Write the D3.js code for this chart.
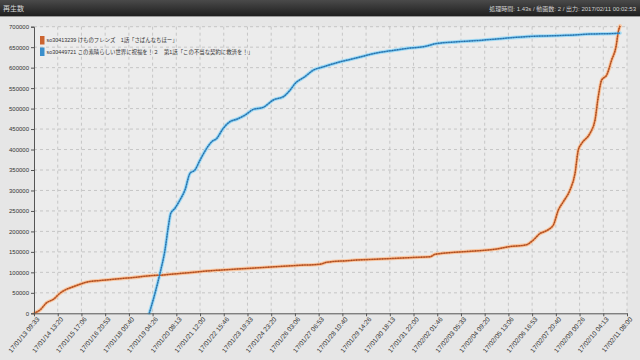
<!DOCTYPE html>
<html>
<head>
<meta charset="utf-8">
<script src="https://cdn.jsdelivr.net/npm/d3@7"></script>
<style>
html, body { margin: 0; padding: 0; background: #e6e6e6; overflow: hidden; }
svg { display: block; font-family: "Liberation Sans", "Noto Sans CJK JP", sans-serif; }
</style>
</head>
<body>
<div id="chart"></div>
<script>
// Textos
const titleText = "再生数";
const infoText = "処理時間: 1.43s / 動画数: 2 / 出力: 2017/02/11 00:02:53";
const seriesNames = [
    "so30413239 けものフレンズ　1話「さばんなちほー」",
    "so30449721 この素晴らしい世界に祝福を！２　第1話「この不当な契約に救済を！」"
];

// Eixos
const xTickLabels = [
    "17/01/13 09:33", "17/01/14 13:20", "17/01/15 17:06", "17/01/16 20:53", "17/01/18 00:40",
    "17/01/19 04:26", "17/01/20 08:13", "17/01/21 12:00", "17/01/22 15:46", "17/01/23 19:33",
    "17/01/24 23:20", "17/01/26 03:06", "17/01/27 06:53", "17/01/28 10:40", "17/01/29 14:26",
    "17/01/30 18:13", "17/01/31 22:00", "17/02/02 01:46", "17/02/03 05:33", "17/02/04 09:20",
    "17/02/05 13:06", "17/02/06 16:53", "17/02/07 20:40", "17/02/09 00:26", "17/02/10 04:13",
    "17/02/11 08:00"
];
const yTicks = [0, 50000, 100000, 150000, 200000, 250000, 300000, 350000,
    400000, 450000, 500000, 550000, 600000, 650000, 700000];

// Série 1 (laranja)
const kemonoTimes = [
    "17/01/13 09:33", "17/01/13 16:33", "17/01/14 00:27", "17/01/14 08:09", "17/01/14 15:57",
    "17/01/14 23:51", "17/01/15 07:33", "17/01/15 15:27", "17/01/16 01:09", "17/01/16 14:51",
    "17/01/17 06:27", "17/01/17 22:09", "17/01/18 13:39", "17/01/19 01:21", "17/01/19 16:57",
    "17/01/20 12:33", "17/01/21 08:03", "17/01/22 07:33", "17/01/23 06:57", "17/01/24 14:03",
    "17/01/26 05:09", "17/01/27 08:27", "17/01/27 16:21", "17/01/28 15:45", "17/01/30 06:45",
    "17/01/31 21:45", "17/02/01 17:21", "17/02/01 23:09", "17/02/03 08:21", "17/02/04 23:27",
    "17/02/05 15:03", "17/02/06 10:33", "17/02/06 18:21", "17/02/07 02:09", "17/02/07 09:57",
    "17/02/07 17:45", "17/02/07 23:33", "17/02/08 05:27", "17/02/08 13:15", "17/02/08 19:09",
    "17/02/08 22:57", "17/02/09 02:57", "17/02/09 12:39", "17/02/09 18:33", "17/02/09 22:21",
    "17/02/10 02:21", "17/02/10 08:15", "17/02/10 14:03", "17/02/10 19:09", "17/02/10 21:51",
    "17/02/10 23:51"
];
const kemonoViews = [
    0, 8000, 26000, 34000, 49000,
    59000, 65000, 71000, 77000, 80000,
    83000, 86000, 89000, 92000, 93500,
    97500, 101000, 105000, 108000, 112000,
    117000, 120000, 124500, 128500, 132500,
    136500, 138000, 144000, 150500, 157000,
    163000, 167500, 179000, 195000, 202000,
    215500, 252000, 272500, 301000, 342000,
    399000, 415000, 439500, 472000, 529000,
    570000, 582000, 619000, 651000, 688000,
    702000
];

// Série 2 (azul)
const konosubaTimes = [
    "17/01/19 00:33", "17/01/19 07:15", "17/01/19 13:09", "17/01/19 18:57", "17/01/19 22:51",
    "17/01/20 01:39", "17/01/20 06:39", "17/01/20 12:33", "17/01/20 18:21", "17/01/21 00:15",
    "17/01/21 06:03", "17/01/21 11:57", "17/01/21 19:45", "17/01/22 01:39", "17/01/22 07:33",
    "17/01/22 15:15", "17/01/22 23:03", "17/01/23 06:57", "17/01/23 16:39", "17/01/24 02:21",
    "17/01/24 14:03", "17/01/25 01:45", "17/01/25 13:33", "17/01/25 21:21", "17/01/26 03:15",
    "17/01/26 14:57", "17/01/27 00:39", "17/01/27 12:21", "17/01/28 04:03", "17/01/28 19:39",
    "17/01/29 11:09", "17/01/30 02:51", "17/01/30 18:27", "17/01/31 14:03", "17/02/01 09:27",
    "17/02/02 01:09", "17/02/03 00:33", "17/02/03 23:57", "17/02/04 23:27", "17/02/05 22:51",
    "17/02/07 02:09", "17/02/08 09:21", "17/02/09 12:39", "17/02/10 21:51", "17/02/10 23:51"
];
const konosubaViews = [
    0, 49000, 98000, 154500, 211500,
    244000, 256500, 277000, 301000, 342000,
    350000, 374000, 403000, 419000, 427000,
    452000, 468000, 474000, 484000, 498000,
    503000, 521000, 529000, 545000, 561000,
    578000, 594000, 602000, 612000, 620000,
    628000, 636000, 641000, 647000, 651000,
    659000, 663000, 666000, 670000, 674000,
    677000, 679000, 682000, 684000, 684500
];

const width = 640;
const height = 360;
const marginLeft = 34;
const marginRight = 13;
const marginTop = 26.7;
const marginBottom = 46.7;

const parse = d3.timeParse("%y/%m/%d %H:%M");
const tickDates = xTickLabels.map(parse);

const series = [
    { name: seriesNames[0], color: "#cc6430", halo: "#f8c8a4", dots: "#9a4a22",
      data: kemonoTimes.map((t, i) => ({ tempo: parse(t), valor: kemonoViews[i] })) },
    { name: seriesNames[1], color: "#3a8fcc", halo: "#a6dcf4", dots: "#2a6a98",
      data: konosubaTimes.map((t, i) => ({ tempo: parse(t), valor: konosubaViews[i] })) }
];

const x = d3.scaleTime()
    .domain([tickDates[0], tickDates[tickDates.length - 1]])
    .range([marginLeft, width - marginRight]);
const y = d3.scaleLinear()
    .domain([0, 700000])
    .range([height - marginBottom, marginTop]);

const svg = d3.select("#chart").append("svg")
    .attr("width", width)
    .attr("height", height);

const defs = svg.append("defs");
const headGrad = defs.append("linearGradient")
    .attr("id", "headGrad")
    .attr("x1", "0%").attr("x2", "0%")
    .attr("y1", "0%").attr("y2", "100%");
headGrad.append("stop").attr("offset", "0%").attr("stop-color", "#4a4a4a");
headGrad.append("stop").attr("offset", "100%").attr("stop-color", "#1f1f1f");

// Cabeçalho
svg.append("rect")
    .attr("x", 0).attr("y", 0)
    .attr("width", width).attr("height", 16)
    .attr("fill", "url(#headGrad)");
svg.append("rect")
    .attr("x", 0).attr("y", 16)
    .attr("width", width).attr("height", 1)
    .attr("fill", "#9a9a9a");
svg.append("text")
    .attr("x", 3).attr("y", 10.5)
    .attr("fill", "#d8d8d8")
    .attr("font-size", 7)
    .text(titleText);
svg.append("text")
    .attr("x", width - 4).attr("y", 10.5)
    .attr("text-anchor", "end")
    .attr("fill", "#d0d0d0")
    .attr("font-size", 6)
    .text(infoText);

// Fundo da área do gráfico
svg.append("rect")
    .attr("x", marginLeft).attr("y", marginTop)
    .attr("width", width - marginRight - marginLeft)
    .attr("height", height - marginBottom - marginTop)
    .attr("fill", "#ececec");

// Grade
svg.append("g")
    .selectAll("line")
    .data(yTicks.slice(1))
    .join("line")
    .attr("x1", marginLeft).attr("x2", width - marginRight)
    .attr("y1", d => y(d)).attr("y2", d => y(d))
    .attr("stroke", "#bdbdbd")
    .attr("stroke-width", 0.8)
    .attr("stroke-dasharray", "3,3");
svg.append("g")
    .selectAll("line")
    .data(tickDates.slice(1))
    .join("line")
    .attr("x1", d => x(d)).attr("x2", d => x(d))
    .attr("y1", marginTop).attr("y2", height - marginBottom)
    .attr("stroke", "#bdbdbd")
    .attr("stroke-width", 0.8)
    .attr("stroke-dasharray", "3,3");

// Linhas
const linha = d3.line()
    .x(d => x(d.tempo))
    .y(d => y(d.valor))
    .curve(d3.curveMonotoneX);

series.forEach(s => {
    svg.append("path")
        .datum(s.data)
        .attr("fill", "none")
        .attr("stroke", s.halo)
        .attr("stroke-width", 3.6)
        .attr("stroke-linejoin", "round")
        .attr("stroke-linecap", "round")
        .attr("d", linha);
});
series.forEach(s => {
    svg.append("path")
        .datum(s.data)
        .attr("fill", "none")
        .attr("stroke", s.color)
        .attr("stroke-width", 1.5)
        .attr("stroke-linejoin", "round")
        .attr("d", linha);
    svg.append("path")
        .datum(s.data)
        .attr("fill", "none")
        .attr("stroke", s.dots)
        .attr("stroke-width", 1.1)
        .attr("stroke-dasharray", "1,1.6")
        .attr("d", linha);
});

// Eixo Y
const yAxis = svg.append("g")
    .attr("transform", `translate(${marginLeft},0)`)
    .call(d3.axisLeft(y).tickValues(yTicks).tickFormat(d3.format("d")).tickSize(3).tickPadding(2));
yAxis.select(".domain").attr("stroke", "#555");
yAxis.selectAll(".tick line").attr("stroke", "#555");
yAxis.selectAll("text")
    .attr("fill", "#333")
    .attr("font-size", 6)
    .attr("font-family", "Liberation Sans, sans-serif");

// Eixo X
const xAxis = svg.append("g")
    .attr("transform", `translate(0,${height - marginBottom})`)
    .call(d3.axisBottom(x).tickValues(tickDates).tickFormat((d, i) => xTickLabels[i]).tickSize(3).tickSizeOuter(0));
xAxis.select(".domain").attr("stroke", "#555");
xAxis.selectAll(".tick line").attr("stroke", "#555");
xAxis.selectAll("text")
    .attr("fill", "#333")
    .attr("font-size", 6.6)
    .attr("font-family", "Liberation Sans, sans-serif")
    .attr("text-anchor", "end")
    .attr("dx", "-0.2em")
    .attr("dy", "0.3em")
    .attr("transform", "rotate(-50)");

// Legenda
const legend = svg.append("g");
series.forEach((s, i) => {
    legend.append("rect")
        .attr("x", 40).attr("y", 36 + i * 11.5)
        .attr("width", 4.5).attr("height", 8.5)
        .attr("fill", s.color);
    legend.append("text")
        .attr("x", 46.5).attr("y", 42 + i * 11.5)
        .attr("fill", "#333")
        .attr("font-size", 5.4)
        .text(s.name);
});
</script>
</body>
</html>
